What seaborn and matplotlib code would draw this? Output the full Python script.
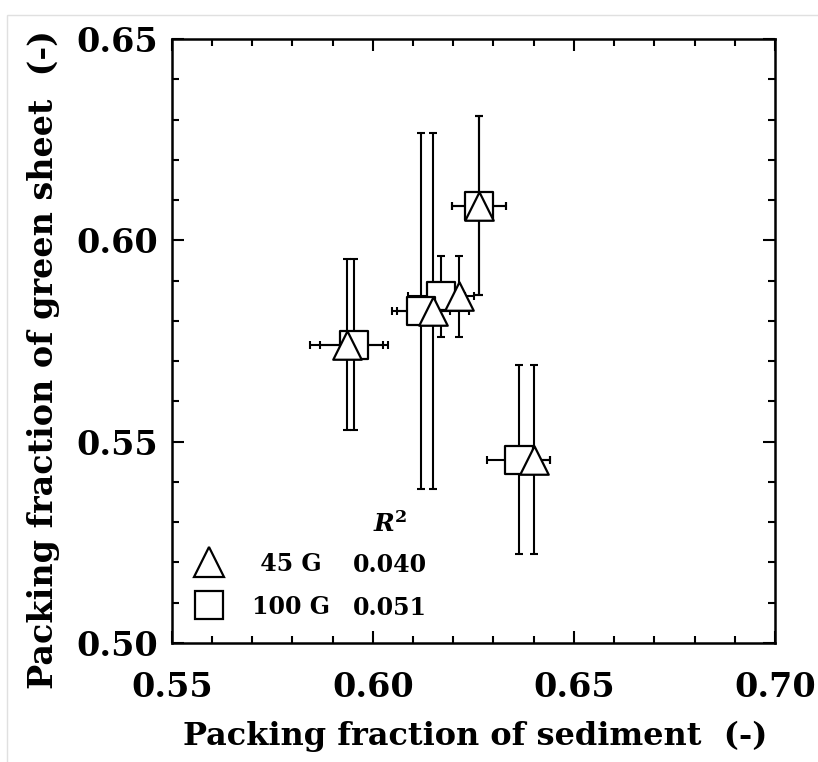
import numpy as np
import pandas as pd
import matplotlib
matplotlib.use("Agg")
import matplotlib.pyplot as plt
from matplotlib.lines import Line2D
from matplotlib.ticker import MultipleLocator, FormatStrFormatter
import seaborn as sns

# ---- data ----
series = ["45 G", "100 G"]
r2_values = ["0.040", "0.051"]

# 45 G (triangles)
x_45 = [0.6265, 0.6215, 0.6150, 0.5935, 0.6401]
xerr_45 = [0.0067, 0.0015, 0.0090, 0.0090, 0.0040]
y_45 = [0.6086, 0.5861, 0.5825, 0.5741, 0.5455]
yerr_45 = [0.0223, 0.0100, 0.0442, 0.0213, 0.0235]

# 100 G (squares)
x_100 = [0.6263, 0.6170, 0.6121, 0.5953, 0.6363]
xerr_100 = [0.0067, 0.0082, 0.0072, 0.0085, 0.0078]
y_100 = [0.6086, 0.5861, 0.5825, 0.5741, 0.5455]
yerr_100 = [0.0223, 0.0100, 0.0442, 0.0213, 0.0235]

xlabel = "Packing fraction of sediment  (-)"
ylabel = "Packing fraction of green sheet  (-)"

sns.set_theme(style="ticks")
FONT = ["DejaVu Serif"]
plt.rcParams["font.family"] = FONT
plt.rcParams["font.weight"] = "bold"
plt.rcParams["mathtext.fontset"] = "dejavuserif"
for k in ["text.color", "axes.labelcolor", "xtick.color", "ytick.color",
          "axes.edgecolor"]:
    plt.rcParams[k] = "black"

fig = plt.figure(figsize=(8.18, 7.62), dpi=100)
ax = fig.add_axes([0.2099, 0.1562, 0.7375, 0.7926])

# faint frame around the picture
fig.patches.append(plt.Rectangle((7 / 818, -0.1), 1.2, (762 - 15) / 762 + 0.1,
                                 transform=fig.transFigure, fill=False,
                                 edgecolor="#e0e0e0", lw=1.0, zorder=0))

df = pd.concat([
    pd.DataFrame({"x": x_100, "y": y_100, "series": series[1]}),
    pd.DataFrame({"x": x_45, "y": y_45, "series": series[0]}),
], ignore_index=True)

err_kw = dict(fmt="none", ecolor="black", elinewidth=1.5, capsize=3.2,
              capthick=1.5, zorder=1)
ax.errorbar(x_100, y_100, xerr=xerr_100, yerr=yerr_100, **err_kw)
ax.errorbar(x_45, y_45, xerr=xerr_45, yerr=yerr_45, **err_kw)

msize = 20.5
sns.scatterplot(data=df[df.series == series[1]], x="x", y="y", marker="s",
                s=msize ** 2, color="white", edgecolor="black", linewidth=1.6,
                ax=ax, zorder=2, legend=False)
sns.scatterplot(data=df[df.series == series[0]], x="x", y="y", marker="^",
                s=msize ** 2, color="white", edgecolor="black", linewidth=1.6,
                ax=ax, zorder=3, legend=False)

ax.set_xlim(0.55, 0.70)
ax.set_ylim(0.50, 0.65)
ax.xaxis.set_major_locator(MultipleLocator(0.05))
ax.xaxis.set_minor_locator(MultipleLocator(0.01))
ax.yaxis.set_major_locator(MultipleLocator(0.05))
ax.yaxis.set_minor_locator(MultipleLocator(0.01))
ax.xaxis.set_major_formatter(FormatStrFormatter("%.2f"))
ax.yaxis.set_major_formatter(FormatStrFormatter("%.2f"))
ax.tick_params(which="both", direction="in", top=True, right=True,
               width=1.5, color="black")
ax.tick_params(which="major", length=8.5)
ax.tick_params(which="minor", length=5)
ax.tick_params(axis="x", which="major", pad=20, labelsize=24)
ax.tick_params(axis="y", which="major", pad=10, labelsize=24)
for lab in ax.get_xticklabels() + ax.get_yticklabels():
    lab.set_fontweight("bold")
for sp in ax.spines.values():
    sp.set_linewidth(1.8)
    sp.set_color("black")

ax.set_xlabel(xlabel, fontsize=23, fontweight="bold")
ax.set_ylabel(ylabel, fontsize=24, fontweight="bold")
ax.xaxis.set_label_coords(0.503, -0.128)
ax.yaxis.set_label_coords(-0.185, 0.4685)

handles = [Line2D([], [], marker="^", ls="none", markersize=21.5,
                  markerfacecolor="white", markeredgecolor="black",
                  markeredgewidth=1.6),
           Line2D([], [], marker="s", ls="none", markersize=20.5,
                  markerfacecolor="white", markeredgecolor="black",
                  markeredgewidth=1.6)]
leg = ax.legend(handles, [" " + series[0], series[1]], loc="lower left",
                bbox_to_anchor=(0.0, 0.008), frameon=False,
                prop={"family": FONT, "weight": "bold", "size": 17},
                handlelength=1.5, handletextpad=1.08, labelspacing=0.8,
                borderaxespad=0.43)

ax.text(0.362, 0.1286, r2_values[0], transform=ax.transAxes, ha="center",
        va="center", fontsize=17, fontweight="bold")
ax.text(0.362, 0.0571, r2_values[1], transform=ax.transAxes, ha="center",
        va="center", fontsize=17, fontweight="bold")
ax.text(0.362, 0.196, r"$\boldsymbol{R}^{\mathbf{2}}$", transform=ax.transAxes,
        ha="center", va="center", fontsize=18)

fig.savefig("out.png", dpi=100)
